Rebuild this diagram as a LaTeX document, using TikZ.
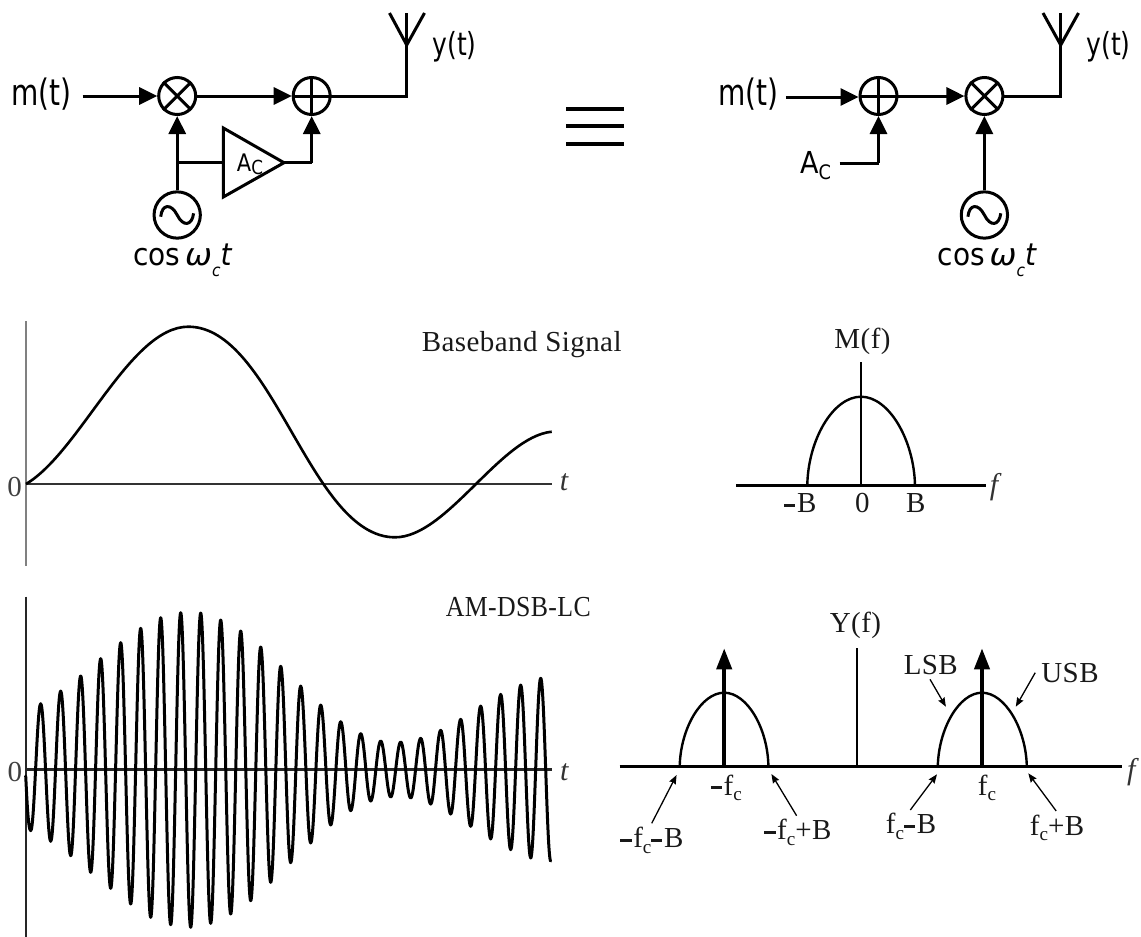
\documentclass[tikz,border=0pt]{standalone}
\usepackage{fontspec}
\usepackage{graphicx}
\usetikzlibrary{arrows.meta,calc}
\newfontfamily\dsans{DejaVu Sans}
\newfontfamily\cam[LetterSpace=1.5]{Liberation Serif}
\newfontfamily\camplain{Liberation Serif}
\newcommand{\dn}[1]{\raisebox{-.2em}{\scalebox{.66}{#1}}}
\newcommand{\dnw}[1]{\raisebox{-.36em}{\scalebox{.55}{#1}}}
\newcommand{\mn}{\rule[.2em]{.38em}{.1em}\hspace{.06em}}
\newcommand{\ys}[2]{\scalebox{1}[#1]{#2}}
\tikzset{
  wire/.style={line width=3pt,line join=miter},
  arr/.style={wire,-{Triangle[length=18pt,width=17pt]}},
  blockc/.style={circle,draw,line width=3pt,minimum size=37pt,inner sep=0pt},
  oscc/.style={circle,draw,line width=3pt,minimum size=46.3pt,inner sep=0pt},
  sans28/.style={inner sep=0pt,anchor=base,font=\dsans\fontsize{28}{30}\selectfont},
  sans25/.style={inner sep=0pt,anchor=base,font=\dsans\fontsize{25}{28}\selectfont},
  lab/.style={inner sep=0pt,anchor=base,font=\cam\fontsize{29}{30}\selectfont,text=black!90},
  mathlab/.style={inner sep=0pt,anchor=base,font=\camplain\itshape\fontsize{30}{30}\selectfont,text=black!80},
  zero/.style={inner sep=0pt,anchor=base,font=\camplain\fontsize{29}{30}\selectfont,text=black!75},
  thinarr/.style={line width=1.3pt,-{Stealth[length=9pt,width=7pt,inset=1pt]}},
  spec/.style={line width=2.4pt},
  faxis/.style={line width=3pt},
  imp/.style={line width=4pt,-{Triangle[length=21pt,width=15pt]}},
}
\begin{document}
\begin{tikzpicture}[x=1pt,y=-1pt]
\useasboundingbox (0,0) rectangle (1141,937);

% ---------- left block diagram
\node[blockc] (mixa) at (177.2,96) {};
\node[blockc] (adda) at (311.7,96) {};
\node[oscc] (osca) at (177.2,215) {};
\draw[wire] (mixa.45) -- (mixa.225) (mixa.135) -- (mixa.315);
\draw[wire] (adda.north) -- (adda.south) (adda.west) -- (adda.east);
\draw[wire] (160.7,216.7) .. controls (162,204) and (171,203) .. (177.2,215) .. controls (183,227) and (192,226) .. (193.6,213.3);
\coordinate (ma) at (82.7,96);
\coordinate (brancha) at (177.2,162.7);
\coordinate (ampin) at (223.3,162.7);
\coordinate (ampout) at (284,162.7);
\coordinate (ampup) at (223.3,128);
\coordinate (ampdn) at (223.3,197);
\coordinate (cornera) at (311.7,162.7);
\coordinate (anta) at (406.7,96);
\coordinate (antba) at (406.7,45);
\coordinate (antta) at (406.7,13);
\coordinate (antla) at (389.5,13);
\coordinate (antra) at (424.5,13);
\draw[arr] (ma) -- (mixa.west);
\draw[arr] (mixa.east) -- (adda.west);
\draw[arr] (osca.north) -- (mixa.south);
\draw[wire] (brancha) -- (ampin);
\draw[wire,line join=miter] (ampup) -- (ampout) -- (ampdn) -- cycle;
\draw[wire] (ampout) -- (cornera);
\draw[arr] (cornera) -- (adda.south);
\draw[wire] (adda.east) -- (anta) -- (antta);
\draw[wire] (antla) -- (antba) -- (antra);
\node[sans28] (mta) at (41.7,105.7) {\ys{1.3}{m(t)}};
\node[sans25] (yta) at (454.5,55) {\ys{1.27}{y(t)}};
\node[inner sep=0pt,anchor=base,font=\dsans\fontsize{21}{24}\selectfont] (aca) at (250,171.7) {\ys{1.15}{A\raisebox{-.12em}{\scalebox{.8}{C}}}};
\node[sans28] (cosa) at (182.5,265) {\ys{1.1}{cos\,{\itshape \scalebox{1.15}[1]{ω}\dnw{c}t}}};

% ---------- equivalence sign
\coordinate (eq1a) at (566,109); \coordinate (eq1b) at (623.7,109);
\coordinate (eq2a) at (566,126.3); \coordinate (eq2b) at (623.7,126.3);
\coordinate (eq3a) at (566,144); \coordinate (eq3b) at (623.7,144);
\draw[line width=3.8pt] (eq1a) -- (eq1b) (eq2a) -- (eq2b) (eq3a) -- (eq3b);

% ---------- right block diagram
\node[blockc] (addb) at (878.5,96) {};
\node[blockc] (mixb) at (984.4,96) {};
\node[oscc] (oscb) at (984.4,215) {};
\draw[wire] (mixb.45) -- (mixb.225) (mixb.135) -- (mixb.315);
\draw[wire] (addb.north) -- (addb.south) (addb.west) -- (addb.east);
\draw[wire] (967.9,216.7) .. controls (969.2,204) and (978.2,203) .. (984.4,215) .. controls (990.2,227) and (999.2,226) .. (1000.8,213.3);
\coordinate (mb) at (785.9,97);
\coordinate (acs) at (839.6,163);
\coordinate (cornerb) at (878.5,163);
\coordinate (antb) at (1060.7,96);
\coordinate (antbb) at (1060.7,45);
\coordinate (anttb) at (1060.7,13);
\coordinate (antlb) at (1043,13);
\coordinate (antrb) at (1078.5,13);
\draw[arr] (mb) -- (mb -| addb.west);
\draw[arr] (addb.east) -- (mixb.west);
\draw[arr] (oscb.north) -- (mixb.south);
\draw[wire] (acs) -- (cornerb);
\draw[arr] (cornerb) -- (addb.south);
\draw[wire] (mixb.east) -- (antb) -- (anttb);
\draw[wire] (antlb) -- (antbb) -- (antrb);
\node[sans28] (mtb) at (748.5,105.7) {\ys{1.3}{m(t)}};
\node[sans25] (ytb) at (1108.5,55) {\ys{1.27}{y(t)}};
\node[inner sep=0pt,anchor=base,font=\dsans\fontsize{27}{29}\selectfont] (acb) at (815.5,173.3) {\ys{1.12}{A\dn{C}}};
\node[sans28] (cosb) at (987,265) {\ys{1.1}{cos\,{\itshape \scalebox{1.15}[1]{ω}\dnw{c}t}}};

% ---------- baseband signal
\coordinate (bv1) at (26,321); \coordinate (bv2) at (26,566);
\coordinate (bh1) at (26,484); \coordinate (bh2) at (551.7,484);
\draw[line width=1.3pt,black!50] (bv1) -- (bv2);
\draw[line width=1.2pt,black!80] (bh1) -- (bh2);
\draw[line width=2.6pt] (26,484) .. controls (80,452) and (130,326.7) .. (188.3,326.7)
  .. controls (273.3,326.7) and (310,537.3) .. (395,537.3)
  .. controls (447,537.3) and (500,437) .. (551.7,431.7);
\node[zero] (zb) at (14.5,496) {0};
\node[mathlab] (tb) at (564,490) {t};
\node[lab] (titleb) at (521.7,351.7) {Baseband Signal};

% ---------- M(f)
\coordinate (mh1) at (736,485.3); \coordinate (mh2) at (986,485.3);
\coordinate (mv1) at (861,485.3); \coordinate (mv2) at (861,362);
\draw[faxis] (mh1) -- (mh2);
\draw[spec] (mv1) -- (mv2);
\draw[spec] (807.3,485.3) .. controls (808,440) and (833,396.7) .. (861,396.7) .. controls (889,396.7) and (914,440) .. (915,485.3);
\node[lab] (mf) at (862.5,348.3) {M(f)};
\node[lab] (mb1) at (800.5,512.3) {\mn B};
\node[lab] (mb2) at (862.3,512.3) {0};
\node[lab] (mb3) at (915.8,512.3) {B};
\node[mathlab] (ff1) at (994,494) {f};

% ---------- AM-DSB-LC
\coordinate (av1) at (26,596.7); \coordinate (av2) at (26,936.7);
\coordinate (ah1) at (26,769.3); \coordinate (ah2) at (551.7,769.3);
\draw[line width=2.2pt,black!85] (av1) -- (av2);
\draw[line width=2.6pt,black!85] (ah1) -- (ah2);
\draw[line width=3pt,line cap=round,line join=round] (25.7,776) .. controls (26.5,790) and (28,830.7) .. (30.7,830.7)
 \foreach \x/\y in {40.7/703.7,50.7/841.3,60.7/691,70.7/855.7,80.7/676,90.7/872.3,100.7/658.7,110.7/888.3,
  120.7/642.7,130.7/904,140.7/628.3,150.7/917.3,160.7/617.7,170.7/924.7,180.7/612.7,190.7/927.3,200.7/613,
  210.7/923.3,220.7/620,230.7/914,240.7/631,250.7/900.7,260.7/647,270.7/882.3,280.7/666.3,290.7/862.7,
  300.7/686,310.7/843,320.7/705,330.7/825,340.7/721.7,350.7/810.7,360.7/733.7,370.7/801,380.7/741,390.7/797,
  400.7/742,410.7/798,420.7/738.3,430.7/804,440.7/730.3,450.7/814,460.7/719.3,470.7/826.3,480.7/706,490.7/839,
  500.7/694.3,510.7/849.7,520.7/685,530.7/858,540.7/678.3,550.7/861}
 { .. controls +(3.64,0) and +(-3.64,0) .. (\x,\y) };
\node[zero] (za) at (15,781.7) {0};
\node[mathlab] (ta) at (564.3,780.7) {t};
\node[lab] (titlea) at (518.3,616.7) {\scalebox{.89}[1]{AM-DSB-LC}};

% ---------- Y(f)
\coordinate (yh1) at (619.7,766.7); \coordinate (yh2) at (1122,766.7);
\coordinate (yv1) at (856.7,766.7); \coordinate (yv2) at (856.7,648.3);
\coordinate (il1) at (724.2,766.7); \coordinate (il2) at (724.2,648.3);
\coordinate (ir1) at (982,766.7); \coordinate (ir2) at (982,648.3);
\draw[faxis] (yh1) -- (yh2);
\draw[spec] (yv1) -- (yv2);
\draw[imp] (il1) -- (il2);
\draw[imp] (ir1) -- (ir2);
\draw[spec] (679.7,766.7) .. controls (680.3,729) and (701,692.7) .. (724.2,692.7) .. controls (747.4,692.7) and (768,729) .. (768.4,766.7);
\draw[spec] (937.8,766.7) .. controls (938.4,729) and (959,692.7) .. (982,692.7) .. controls (1005,692.7) and (1026.2,729) .. (1026.8,766.7);
\node[lab] (yf) at (855.5,632) {Y(f)};
\node[lab] (l1) at (726.4,795) {\mn f\dn{c}};
\node[lab] (l2) at (987,795) {f\dn{c}};
\node[lab] (l3) at (652,847.3) {\mn f\dn{c}\mn B};
\node[lab] (l4) at (798,839.3) {\mn f\dn{c}+B};
\node[lab] (l5) at (911,833.3) {f\dn{c}\mn B};
\node[lab] (l6) at (1057,835) {f\dn{c}+B};
\node[lab] (lsb) at (930.8,674.3) {LSB};
\node[lab] (usb) at (1070,682.7) {USB};
\node[mathlab] (ff2) at (1131.4,779) {f};
\coordinate (t1a) at (651.7,823.3); \coordinate (t1b) at (676.6,775);
\coordinate (t2a) at (796.6,815.7); \coordinate (t2b) at (771.4,774);
\coordinate (t3a) at (910.3,810);   \coordinate (t3b) at (937,774.3);
\coordinate (t4a) at (1056.2,811);  \coordinate (t4b) at (1028.3,773.3);
\coordinate (t5a) at (930,679.3);   \coordinate (t5b) at (945.9,706.7);
\coordinate (t6a) at (1035.2,672.7);\coordinate (t6b) at (1015.8,706.7);
\draw[thinarr] (t1a) -- (t1b);
\draw[thinarr] (t2a) -- (t2b);
\draw[thinarr] (t3a) -- (t3b);
\draw[thinarr] (t4a) -- (t4b);
\draw[thinarr] (t5a) -- (t5b);
\draw[thinarr] (t6a) -- (t6b);
\end{tikzpicture}
\end{document}
